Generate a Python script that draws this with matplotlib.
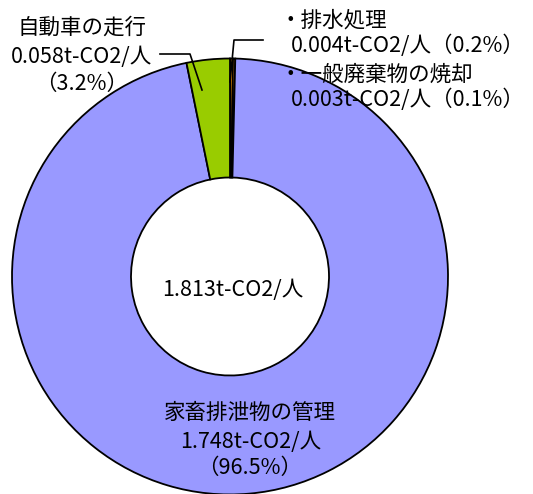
import matplotlib
matplotlib.use("Agg")
import matplotlib.pyplot as plt

plt.rcParams['font.family'] = ['Noto Sans CJK JP', 'DejaVu Sans']

# Data (t-CO2 per person), drawn clockwise from 12 o'clock
categories = ["排水処理", "一般廃棄物の焼却", "家畜排泄物の管理", "自動車の走行"]
values = [0.004, 0.003, 1.748, 0.058]
percent_labels = ["0.2%", "0.1%", "96.5%", "3.2%"]
total_label = "1.813t-CO2/人"
colors = ["#FF9900", "#FF9900", "#9999FF", "#99CC00"]

W, H = 533, 494
fig = plt.figure(figsize=(W / 100, H / 100), dpi=100)
ax = fig.add_axes([0, 0, 1, 1])


def py(y):
    return H - y


R_OUT = 218
R_IN = 99
ax.pie(values, colors=colors, startangle=90, counterclock=False,
       center=(230, py(276.5)), radius=R_OUT,
       wedgeprops=dict(width=R_OUT - R_IN, edgecolor="black", linewidth=1.3))
ax.set_xlim(0, W)
ax.set_ylim(0, H)
ax.set_aspect("equal")
ax.axis("off")

fs = 15.5


def val(i):
    return f"{values[i]:.3f}t-CO2/人"


def txt(x, y, s, ha="center"):
    ax.text(x, py(y), s, ha=ha, va="center", fontsize=fs, color="black")


# 自動車の走行
txt(82, 28, categories[3])
txt(82, 57, val(3))
txt(82, 84, f"（{percent_labels[3]}）")

# 排水処理 / 一般廃棄物の焼却
txt(279, 21, "・" + categories[0], ha="left")
txt(291, 46, val(0) + f"（{percent_labels[0]}）", ha="left")
txt(279, 75, "・" + categories[1], ha="left")
txt(291, 100, val(1) + f"（{percent_labels[1]}）", ha="left")

# 家畜排泄物の管理
txt(250, 413, categories[2])
txt(251, 442, val(2))
txt(250, 468, f"（{percent_labels[2]}）")

# total in the hole
txt(233, 290, total_label)

# leader lines
ax.plot([202, 190, 160], [py(90), py(54), py(54)], color="black", lw=1.2)
ax.plot([230, 234, 263], [py(82), py(40), py(40)], color="black", lw=1.2)

fig.savefig("out.png", dpi=100)
